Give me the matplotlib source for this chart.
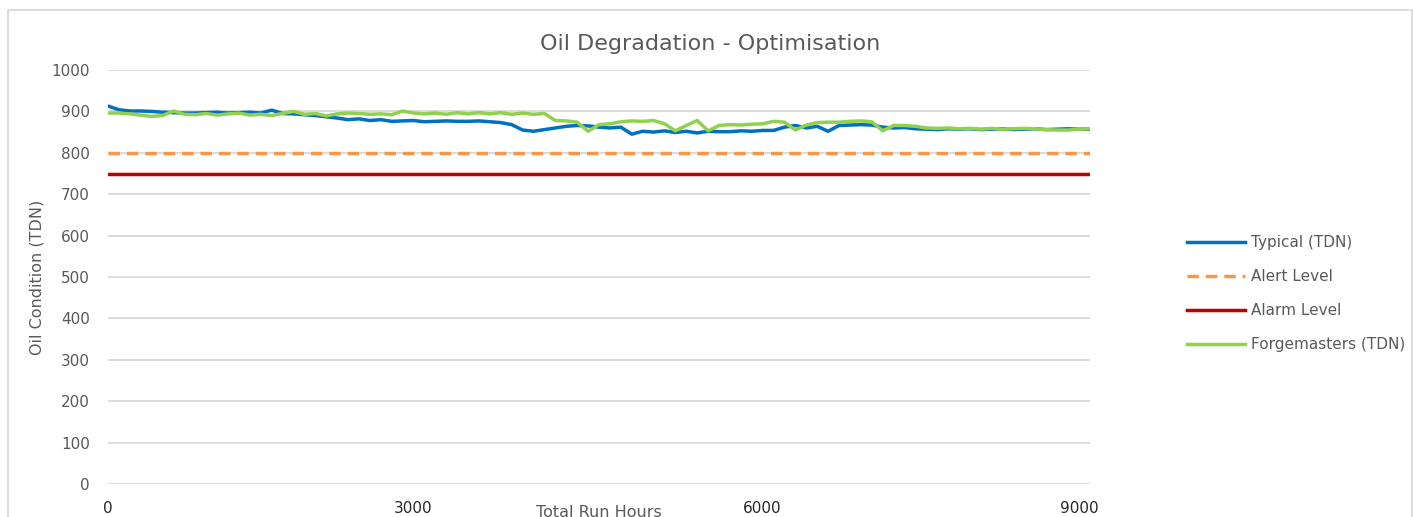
import matplotlib.pyplot as plt
from matplotlib.patches import Rectangle

# readings, one per sample
typical = [913, 904, 901, 901, 900, 898, 897, 896, 896, 897,
           898, 896, 897, 898, 896, 903, 895, 894, 892, 890,
           887, 884, 880, 882, 878, 880, 876, 877, 878, 875,
           876, 877, 876, 876, 877, 875, 873, 868, 855, 852,
           856, 860, 864, 866, 865, 862, 860, 862, 845, 852,
           850, 853, 849, 852, 848, 852, 851, 851, 853, 852,
           854, 854, 862, 866, 860, 864, 852, 866, 867, 868,
           867, 862, 860, 861, 858, 857, 856, 858, 857, 858,
           856, 857, 858, 856, 857, 858, 856, 857, 858, 857, 857]
forgemasters = [896, 896, 894, 891, 888, 890, 901, 893, 892, 895,
                891, 894, 896, 891, 893, 890, 895, 900, 893, 895,
                889, 894, 896, 895, 893, 894, 892, 901, 896, 894,
                896, 893, 897, 894, 897, 894, 897, 893, 896, 893,
                895, 878, 877, 874, 852, 868, 870, 875, 877, 876,
                878, 870, 853, 866, 878, 853, 866, 868, 867, 869,
                870, 876, 874, 855, 867, 873, 874, 874, 876, 877,
                875, 853, 866, 866, 864, 860, 859, 860, 858, 859,
                857, 859, 857, 858, 859, 858, 856, 855, 855, 857, 858]
alert_level = 800
alarm_level = 750
tick_labels = ['0', '3000', '6000', '9000']
tick_samples = [0, 28, 60, 89]

n = len(typical)
x = list(range(n))

fig = plt.figure(figsize=(14.13, 5.17), dpi=100)
ax = fig.add_axes([108/1413, 1-484/517, 982/1413, 414/517])

ax.plot(x, typical, color='#0070C0', lw=2.5, label='Typical (TDN)', zorder=3)
ax.plot(x, [alert_level]*n, color='#F79646', lw=2.5, ls=(0, (3.3, 2.0)), label='Alert Level', zorder=3)
ax.plot(x, [alarm_level]*n, color='#C00000', lw=2.5, label='Alarm Level', zorder=3)
ax.plot(x, forgemasters, color='#92D050', lw=2.5, label='Forgemasters (TDN)', zorder=4)

ax.set_xlim(0, n-1)
ax.set_ylim(0, 1000)
ax.set_yticks(range(0, 1001, 100))
ax.set_xticks(tick_samples)
ax.set_xticklabels(tick_labels)
ax.grid(axis='y', color='#D9D9D9', lw=1.3)
ax.set_axisbelow(True)
for s in ax.spines.values():
    s.set_visible(False)
ax.tick_params(axis='y', length=0, pad=13, labelsize=11, labelcolor='#595959')
ax.tick_params(axis='x', length=0, pad=12, labelsize=11, labelcolor='#262626')

ax.set_ylabel('Oil Condition (TDN)', fontsize=11.5, color='#595959')
ax.yaxis.set_label_coords(-0.065, 0.5)
ax.set_xlabel('Total Run Hours', fontsize=11.5, color='#595959')
ax.xaxis.set_label_coords(0.5, -0.05)

fig.text(710/1413, 1-44/517, 'Oil Degradation - Optimisation', ha='center', va='center',
         fontsize=16, color='#595959')

ax.legend(loc='center left', bbox_to_anchor=(1.085, 0.46), frameon=False, fontsize=11,
          labelcolor='#595959', handlelength=3.8, labelspacing=1.25, handletextpad=0.4)

fig.patches.append(Rectangle((8/1413, -0.1), 1404/1413, 1.1-10/517, transform=fig.transFigure,
                             fill=False, edgecolor='#D9D9D9', lw=1.3))

fig.savefig('out.png', dpi=100)
